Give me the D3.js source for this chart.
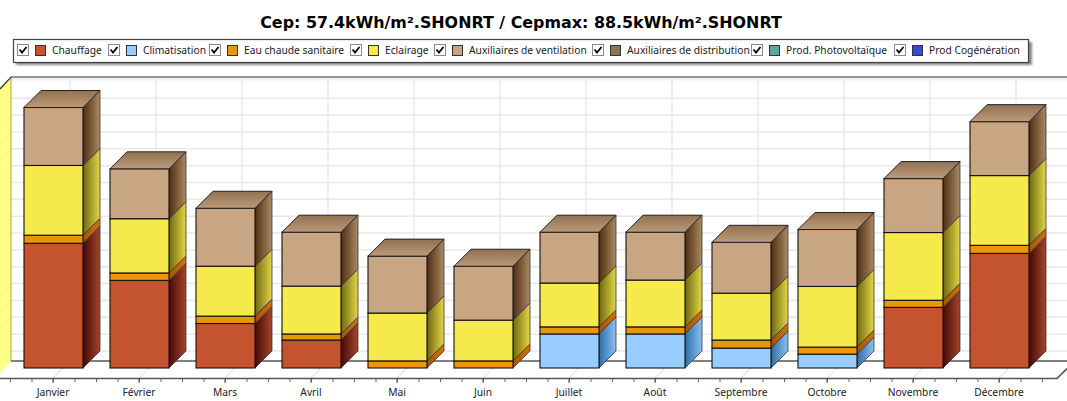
<!DOCTYPE html>
<html>
<head>
<meta charset="utf-8">
<script src="https://cdn.jsdelivr.net/npm/d3@7"></script>
<style>
  html, body { margin: 0; padding: 0; background: #fff; }
  svg { display: block; }
  text { font-family: "Noto Sans", sans-serif; font-size: 10.25px; fill: #222; }
</style>
</head>
<body>
<div id="vizcontainer"></div>
<script>
const
  width = 1067,
  height = 401,
  depth = 17
  ;

const titleText = 'Cep: 57.4kWh/m².SHONRT / Cepmax: 88.5kWh/m².SHONRT';

const months = ['Janvier', 'Février', 'Mars', 'Avril', 'Mai', 'Juin', 'Juillet', 'Août', 'Septembre', 'Octobre', 'Novembre', 'Décembre'];
const seriesNames = ['Chauffage', 'Climatisation', 'Eau chaude sanitaire', 'Eclairage', 'Auxiliaires de ventilation', 'Auxiliaires de distribution', 'Prod. Photovoltaïque', 'Prod Cogénération'];

// kWh/m2
const chauffage = [3.70, 2.60, 1.32, 0.83, 0, 0, 0, 0, 0, 0, 1.80, 3.40];
const climatisation = [0, 0, 0, 0, 0, 0, 1.01, 1.01, 0.59, 0.41, 0, 0];
const eauChaude = [0.24, 0.22, 0.22, 0.18, 0.21, 0.21, 0.21, 0.21, 0.24, 0.21, 0.21, 0.24];
const eclairage = [2.07, 1.61, 1.48, 1.42, 1.42, 1.21, 1.30, 1.39, 1.39, 1.80, 2.01, 2.07];
const ventilation = [1.72, 1.48, 1.72, 1.60, 1.69, 1.60, 1.51, 1.42, 1.51, 1.69, 1.60, 1.60];
const distribution = [0, 0, 0, 0, 0, 0, 0, 0, 0, 0, 0, 0];
const photovoltaique = [0, 0, 0, 0, 0, 0, 0, 0, 0, 0, 0, 0];
const cogeneration = [0, 0, 0, 0, 0, 0, 0, 0, 0, 0, 0, 0];

const allSeries = [chauffage, climatisation, eauChaude, eclairage, ventilation, distribution, photovoltaique, cogeneration];

const colors = ['#c4542f', '#99ccff', '#e8960a', '#f6e94c', '#c8a684', '#8a7650', '#5ba8a0', '#3d48d0'];
// side face gradient [back-edge dark, light]
const sideColors = [
  ['#470807', '#a5452b'],
  ['#2c6ea6', '#8cc0f2'],
  ['#a85000', '#cf7408'],
  ['#6e6812', '#e4d744'],
  ['#4f2d10', '#ab8a65'],
  ['#4a3c20', '#8a7650'],
  ['#2a5a55', '#5ba8a0'],
  ['#1a2270', '#3d48d0']
];
const topColors = ['#91714f', '#bb9b7a'];

const legendLeft = [17, 108, 209, 350, 434, 592, 751, 894];

const rows = months.map((m, i) => {
  let row = { month: m };
  seriesNames.forEach((s, j) => { row[s] = allSeries[j][i]; });
  return row;
});
const stacked = d3.stack().keys(seriesNames)(rows);

let xScale = d3.scaleBand()
  .domain(months)
  .range([10.5, 1042.5])
  .paddingInner(0.314)
  .paddingOuter(0.157);

let yScale = d3.scaleLinear()
  .domain([0, 8])
  .range([368, 98.4]);

let viz = d3.select('#vizcontainer')
  .append('svg')
  .attr('width', width)
  .attr('height', height);

// gradients
let defs = viz.append('defs');
sideColors.forEach((c, i) => {
  let g = defs.append('linearGradient').attr('id', 'side' + i);
  g.append('stop').attr('offset', '0%').attr('stop-color', c[0]);
  g.append('stop').attr('offset', '100%').attr('stop-color', c[1]);
});
let topGrad = defs.append('linearGradient').attr('id', 'topFace').attr('x1', 0).attr('x2', 0).attr('y1', 0).attr('y2', 1);
topGrad.append('stop').attr('offset', '0%').attr('stop-color', topColors[0]);
topGrad.append('stop').attr('offset', '100%').attr('stop-color', topColors[1]);
defs.append('filter').attr('id', 'blur')
  .append('feGaussianBlur').attr('stdDeviation', 1);

// title
viz.append('text')
  .attr('x', 521)
  .attr('y', 28)
  .attr('text-anchor', 'middle')
  .style('font-family', '"DejaVu Sans", sans-serif')
  .style('font-size', '15.9px')
  .style('font-weight', 'bold')
  .style('fill', '#000')
  .text(titleText);

// legend
let legend = viz.append('g');
legend.append('rect')
  .attr('x', 16).attr('y', 42).attr('width', 1016).attr('height', 23)
  .attr('fill', '#888').attr('filter', 'url(#blur)');
legend.append('rect')
  .attr('x', 13.5).attr('y', 39.5).attr('width', 1015).attr('height', 23)
  .attr('fill', '#fff').attr('stroke', '#444').attr('stroke-width', 1.2);

let legendItem = legend.selectAll('g')
  .data(seriesNames)
  .join('g')
  .attr('transform', (d, i) => `translate(${legendLeft[i]},44)`);
legendItem.append('rect')
  .attr('x', 0.5).attr('y', 0.5).attr('width', 11).attr('height', 11)
  .attr('fill', '#fff').attr('stroke', '#8a8a8a');
legendItem.append('path')
  .attr('d', 'M2.5 5.5 L5 8.5 L9.5 3')
  .attr('fill', 'none').attr('stroke', '#000').attr('stroke-width', 1.8);
legendItem.append('rect')
  .attr('x', 18.5).attr('y', 1.5).attr('width', 10).attr('height', 10)
  .attr('fill', (d, i) => colors[i]).attr('stroke', '#333');
legendItem.append('text')
  .attr('x', 35)
  .attr('y', 10)
  .text(d => d);

// left wall
viz.append('polygon')
  .attr('points', '11,77 0,89 0,373 11,361')
  .attr('fill', '#ffff85');

const gridValues = d3.range(0, 8, 0.5);

let grid = viz.append('g').attr('fill', 'none').attr('stroke', '#e8e8e8').attr('stroke-width', 1.5);
gridValues.forEach(v => {
  let gy = yScale(v) - depth;
  grid.append('line').attr('x1', 11).attr('x2', width).attr('y1', gy).attr('y2', gy);
  grid.append('line').attr('x1', 0).attr('x2', 11).attr('y1', gy + 12).attr('y2', gy)
    .attr('stroke', '#f4f47a').attr('stroke-width', 1);
});
grid.append('line').attr('x1', 11).attr('x2', width).attr('y1', 79).attr('y2', 79).attr('stroke', '#f0f0f0').attr('stroke-width', 3);
months.forEach(m => {
  let gx = xScale(m) + xScale.bandwidth() / 2 - 0.5;
  grid.append('line').attr('x1', gx + depth).attr('x2', gx + depth).attr('y1', 77).attr('y2', 361);
  grid.append('line').attr('x1', gx).attr('x2', gx + depth).attr('y1', 378).attr('y2', 361);
});

// frame of the 3d box
viz.append('line').attr('x1', 11).attr('x2', 11).attr('y1', 77).attr('y2', 361).attr('stroke', '#a8a83c');
viz.append('path').attr('d', 'M0 89 L11 77 L1067 77').attr('fill', 'none').attr('stroke', '#333').attr('stroke-width', 1.2);
viz.append('line').attr('x1', 11).attr('x2', width).attr('y1', 361).attr('y2', 361).attr('stroke', '#000').attr('stroke-width', 1.2);

// floor edge
viz.append('path').attr('d', 'M0 378.5 L1057 378.5 L1067 368.5').attr('fill', 'none').attr('stroke', '#555').attr('stroke-width', 1.6);

// bars
let bars = viz.append('g');
stacked.forEach((layer, s) => {
  layer.forEach((d, i) => {
    if (d[1] <= d[0]) return;
    let x0 = xScale(months[i]),
      x1 = x0 + xScale.bandwidth(),
      y0 = yScale(d[0]),
      y1 = yScale(d[1]);
    bars.append('path')
      .attr('d', `M${x1} ${y0} L${x1 + depth} ${y0 - depth} L${x1 + depth} ${y1 - depth} L${x1} ${y1} Z`)
      .attr('fill', `url(#side${s})`)
      .attr('stroke', '#333')
      .attr('stroke-width', 0.8);
    bars.append('rect')
      .attr('x', x0)
      .attr('y', y1)
      .attr('width', xScale.bandwidth())
      .attr('height', y0 - y1)
      .attr('fill', colors[s])
      .attr('stroke', '#111')
      .attr('stroke-width', 1.1);
  });
});
// top face, only the last stacked value of each month
months.forEach((m, i) => {
  let total = d3.sum(allSeries, a => a[i]),
    x0 = xScale(m),
    x1 = x0 + xScale.bandwidth(),
    yt = yScale(total);
  bars.append('path')
    .attr('d', `M${x0} ${yt} L${x0 + depth} ${yt - depth} L${x1 + depth} ${yt - depth} L${x1} ${yt} Z`)
    .attr('fill', 'url(#topFace)')
    .attr('stroke', '#222')
    .attr('stroke-width', 1);
});

// x axis
let minorTicks = d3.range(0, 49).map(i => 10.5 + i * xScale.step() / 4);
viz.append('g').selectAll('line')
  .data(minorTicks)
  .join('line')
  .attr('x1', d => d).attr('x2', d => d)
  .attr('y1', 379).attr('y2', 382)
  .attr('stroke', '#666');

let axis = viz.append('g')
  .attr('transform', 'translate(-0.5,378)')
  .call(d3.axisBottom(xScale).tickSize(5).tickPadding(6));
axis.select('.domain').remove();
axis.selectAll('line').attr('stroke', '#555');
axis.selectAll('text').style('font-family', '"Noto Sans", sans-serif').style('font-size', '10.25px').style('fill', '#222');
</script>
</body>
</html>
